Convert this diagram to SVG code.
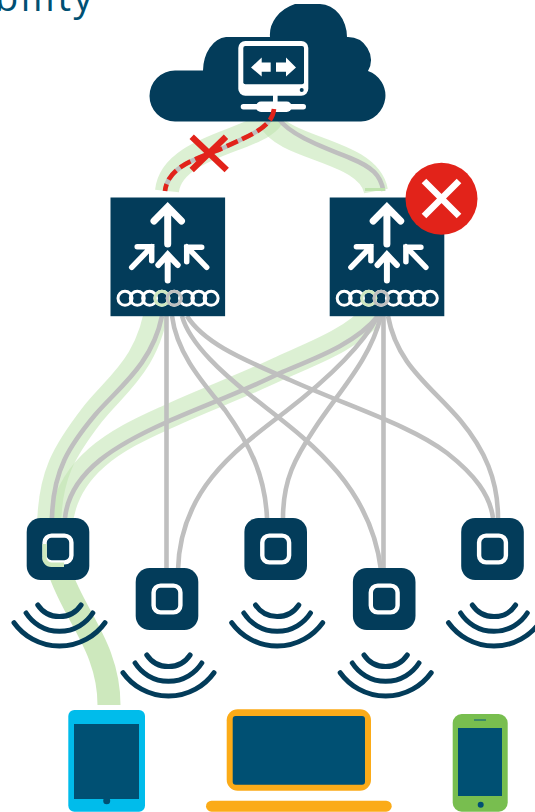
<svg xmlns="http://www.w3.org/2000/svg" xmlns:xlink="http://www.w3.org/1999/xlink" width="535" height="812" viewBox="0 0 535 812">
<style>
.band{fill:none;stroke:#bfe3ae;stroke-width:24;opacity:.54}
.band2{fill:none;stroke:#cde8bd;stroke-width:23}
.link{fill:none;stroke:#bfbfbf;stroke-width:4.600}
.navy{fill:#033c5a}
.screen{fill:#005073}
.w{fill:#fff}
.arrow{fill:none;stroke:#fff;stroke-linecap:round;stroke-linejoin:miter}
.ring{fill:none;stroke:#fff;stroke-width:3}
.wifi{fill:none;stroke:#033c5a;stroke-width:5;stroke-linecap:round}
.red{fill:none;stroke:#e2231a}
.title{font-family:"Open Sans","Noto Sans",sans-serif;font-size:38px;letter-spacing:2.600px;fill:#005073}
</style>
<defs>
<g id="ap">
<rect x="-31.300" y="0" width="62.600" height="62" rx="14" class="navy"/>
<rect x="-13.400" y="17.600" width="26.800" height="26.800" rx="7" fill="none" stroke="#fff" stroke-width="4.400"/>
<g class="wifi">
<path d="M-20.200 87A26 26 0 0 0 23.100 87"/>
<path d="M-31.900 95A39.500 39.500 0 0 0 34.800 95"/>
<path d="M-44 104.700A56 56 0 0 0 47 104.700"/>
</g>
</g>
<g id="router">
<rect x="0" y="0" width="114.600" height="118.700" class="navy"/>
<path class="arrow" stroke-width="7" d="M57.200 46.500V10M43.500 23.500L57.200 9.500L71 23.500"/>
<path class="arrow" stroke-width="6" d="M57.200 83V57M47.800 67.500L57.200 57L67.200 67.500"/>
<path class="arrow" stroke-width="5.500" d="M21.200 69.800L41.200 49.200M26.700 49.200H41.200V63.200"/>
<path class="arrow" stroke-width="5.500" d="M96.200 69.800L76.200 49.200M91.200 49.700H76.200V64.200"/>
</g>
<g id="rings" class="ring">
<circle cx="14.500" cy="100.800" r="7"/><circle cx="26.800" cy="100.800" r="7"/><circle cx="39.100" cy="100.800" r="7"/>
<circle cx="51.400" cy="100.800" r="7"/><circle cx="63.700" cy="100.800" r="7"/>
<circle cx="76" cy="100.800" r="7"/><circle cx="88.300" cy="100.800" r="7"/><circle cx="100.600" cy="100.800" r="7"/>
</g>
</defs>
<text class="title" x="-5" y="11">bility</text>
<g id="connectors">
<path class="band2" d="M52 522C50 600 109 630 109 705"/>
<path class="band" d="M274 112C272 140 172 142 167 191"/>
<path class="band" d="M270 120C285 150 368 150 376 191"/>
<path class="band" d="M158 300C150 365 115 385 92 415C65 450 49 475 49 530"/>
<path class="band" d="M375 312C352 340 308 355 278 369C238 388 203 400 165 418C118 439 64 466 60 530"/>
<path class="link" d="M278 118C290 135 320 146 350 158C372 167 381 175 383.300 191"/>
<path class="link" d="M274 109C272 128 250 135 223 148C200 158 168 165 165 191"/>
<path class="link" d="M162 316C152 365 118 388 95 415C70 445 53 470 52 518"/>
<path class="link" d="M166.500 316V570"/>
<path class="link" d="M172 316C177 355 205 385 225 410C250 445 265 475 267 518"/>
<path class="link" d="M182 316C190 345 225 375 250 395C300 435 370 480 381 570"/>
<path class="link" d="M187 316C205 345 250 362 290 380C350 407 410 425 447 453C475 475 490 495 493 518"/>
<path class="link" d="M378 316C355 345 310 360 280 373C240 393 205 405 167 422C120 443 70 470 65 518"/>
<path class="link" d="M378 316C360 350 320 385 285 412C235 450 180 490 178 570"/>
<path class="link" d="M381 316C370 360 340 390 315 428C295 458 283 480 283 518"/>
<path class="link" d="M383.500 316V570"/>
<path class="link" d="M388 316C397 365 430 385 460 420C485 450 498 480 498 518"/>
<path d="M365 188H385V191H365Z" fill="#bfe3ae"/>
</g>
<g id="cloud">
<path class="navy" d="M175 121.500A25.500 25.500 0 0 1 175 70.500H203A25 34 0 0 1 226 37H270A40 33 0 0 1 295 4H320A28 33 0 0 1 347 37A23 23 0 0 1 368 71A26 26 0 0 1 361 121.500Z"/>
<rect x="238.300" y="41" width="70" height="54.700" rx="7" class="w"/>
<rect x="243.300" y="46" width="60.700" height="38.300" rx="2" class="navy"/>
<circle cx="301.700" cy="90" r="2" class="navy"/>
<rect x="273" y="95" width="4.600" height="7" class="w"/>
<rect x="240.700" y="104" width="65.300" height="5.400" rx="2.700" class="w"/>
<rect x="256" y="101.500" width="35.700" height="10.500" rx="5" class="w"/>
<path class="w" d="M251 67.500L261.700 57.500V62.500H270.700V71.700H261.700V76.500Z"/>
<path class="w" d="M296 67.500L286 57.500V62.500H276V71.700H286V76.500Z"/>
</g>
<g id="router-left"><use xlink:href="#router" href="#router" transform="translate(110.500 197.500)"/>
<use xlink:href="#rings" href="#rings" transform="translate(110.500 197.500)"/>
<circle cx="161.900" cy="298.300" r="7" fill="none" stroke="#cfe8c0" stroke-width="3"/>
<circle cx="174.200" cy="298.300" r="7" fill="none" stroke="#bfbfbf" stroke-width="3"/>
</g>
<g id="router-right"><use xlink:href="#router" href="#router" transform="translate(329.700 197.500)"/>
<use xlink:href="#rings" href="#rings" transform="translate(329.700 197.500)"/>
<circle cx="368.800" cy="298.300" r="7" fill="none" stroke="#cfe8c0" stroke-width="3"/>
<circle cx="381.100" cy="298.300" r="7" fill="none" stroke="#bfbfbf" stroke-width="3"/>
</g>
<g id="ap1"><use xlink:href="#ap" href="#ap" transform="translate(58 518)"/>
<path d="M64 564.700H52A7 7 0 0 1 44.600 556V544" fill="none" stroke="#cde8bd" stroke-width="4.400"/>
</g>
<g id="ap2"><use xlink:href="#ap" href="#ap" transform="translate(167 568)"/></g>
<g id="ap3"><use xlink:href="#ap" href="#ap" transform="translate(275.700 518)"/></g>
<g id="ap4"><use xlink:href="#ap" href="#ap" transform="translate(384.200 568)"/></g>
<g id="ap5"><use xlink:href="#ap" href="#ap" transform="translate(492.500 518)"/></g>
<g id="failed-link">
<path class="red" stroke-width="4.600" stroke-dasharray="12 5" d="M274 109C272 128 250 135 223 148C200 158 168 165 165 191"/>
<path class="red" stroke-width="6.300" d="M191.700 136.700L226.700 170M226 136.700L191.700 170"/>
</g>
<g id="fail-badge">
<circle cx="441.500" cy="198.700" r="36" fill="#e2231a"/>
<path d="M424 181L459 216M459 181L424 216" fill="none" stroke="#fff" stroke-width="6.500"/>
</g>
<g id="tablet">
<rect x="68.300" y="710" width="76.700" height="101.700" rx="6" fill="#00bceb"/>
<rect x="74" y="724" width="65" height="75" class="screen"/>
<circle cx="106.700" cy="800.700" r="3.500" class="screen"/>
</g>
<g id="laptop">
<rect x="226.700" y="709.300" width="144.300" height="81.400" rx="11" fill="#fbab18"/>
<rect x="232.700" y="716" width="132.300" height="68.700" rx="3" class="screen"/>
<rect x="206" y="800.700" width="185.700" height="11" rx="5.500" fill="#fbab18"/>
</g>
<g id="phone">
<rect x="452.700" y="714" width="55" height="97.700" rx="9" fill="#78be4f"/>
<rect x="458" y="728" width="44" height="68" class="screen"/>
<rect x="474" y="719" width="12" height="2" fill="#3e8a66"/>
<circle cx="480.700" cy="804.700" r="3" class="screen"/>
</g>
</svg>
